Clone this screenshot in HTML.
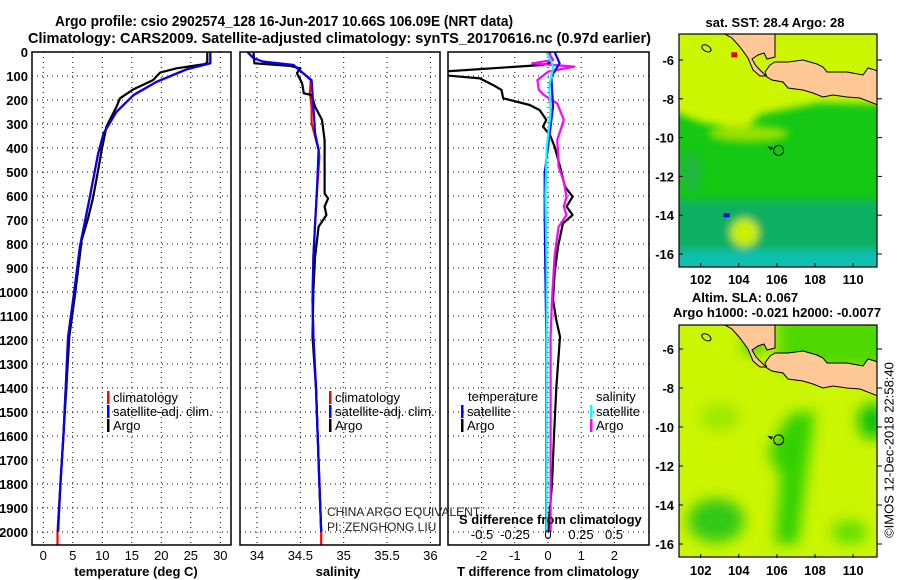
<!DOCTYPE html>
<html><head><meta charset="utf-8"><style>
html,body{margin:0;padding:0;background:#fff}
svg{display:block;font-family:"Liberation Sans",sans-serif}
.b{font-weight:bold}
</style></head><body>
<svg id="fig" width="900" height="580" viewBox="0 0 900 580" xmlns="http://www.w3.org/2000/svg">
<defs>
<clipPath id="c1"><rect x="32" y="52" width="199" height="493"/></clipPath>
<clipPath id="c2"><rect x="240" y="52" width="200" height="493"/></clipPath>
<clipPath id="c3"><rect x="448" y="52" width="201" height="493"/></clipPath>
<clipPath id="cm1"><rect x="679" y="34" width="198" height="233"/></clipPath>
<clipPath id="cm2"><rect x="679" y="325" width="198" height="232"/></clipPath>
<filter id="bl" x="-50%" y="-50%" width="200%" height="200%"><feGaussianBlur stdDeviation="7"/></filter>
<filter id="bl2" x="-50%" y="-50%" width="200%" height="200%"><feGaussianBlur stdDeviation="4"/></filter>
</defs>
<text class="b" x="55" y="26" font-size="15" textLength="458" lengthAdjust="spacingAndGlyphs">Argo profile: csio 2902574_128 16-Jun-2017 10.66S 106.09E (NRT data)</text>
<text class="b" x="28" y="43" font-size="15" textLength="623" lengthAdjust="spacingAndGlyphs">Climatology: CARS2009. Satellite-adjusted climatology: synTS_20170616.nc (0.97d earlier)</text>
<g id="grids"></g>
<g id="lines"></g>
<g id="frames"></g>
<g id="labels"></g>
<g id="maps"></g>
</svg>
<script>
// ---- data (depth in m, values) ----
const tClimDepth=[0,47,72,124,179,249,339,400,422,603,811,1006,1186,1400,1600,1800,2000,2054];
const tClimVal=[28.3,28.3,24.3,19.2,15.3,12.4,10.2,9.7,9.3,7.9,6.2,5.2,4.2,3.8,3.4,2.9,2.4,2.4];
const tSatDepth=[0,47,72,124,179,249,339,422,603,811,1006,1186,1400,1600,1800,2000];
const tSatVal=[28.3,28.3,24.3,19.2,15.3,12.4,10.2,9.3,7.9,6.2,5.2,4.2,3.8,3.4,2.9,2.5];
const tArgoDepth=[0,40,50,68,86,117,155,193,228,311,408,533,610,693,783,1006,1186,1400,1600,1800,2000];
const tArgoVal=[27.8,27.8,27.5,22.6,19.8,18.6,15.3,13.0,12.4,10.7,9.9,9.0,8.4,7.6,6.5,5.4,4.4,3.9,3.4,2.9,2.5];

const sClimDepth=[0,26,40,54,117,172,228,297,408,436,590,714,853,1033,1186,1400,1600,1800,2000,2054];
const sClimVal=[33.89,33.96,34.07,34.42,34.62,34.61,34.63,34.63,34.71,34.72,34.69,34.67,34.65,34.64,34.65,34.68,34.70,34.72,34.74,34.74];
const sSatDepth=[0,26,40,54,117,228,339,408,590,714,853,1033,1186,1400,1600,1800,2000];
const sSatVal=[33.89,33.96,34.07,34.42,34.63,34.65,34.67,34.71,34.69,34.67,34.65,34.64,34.65,34.68,34.70,34.72,34.74];
const sArgoDepth=[0,47,58,68,88,130,172,179,228,283,367,590,610,644,679,728,853,992,1186,1400,1600,1800,2000];
const sArgoVal=[33.96,33.97,34.38,34.50,34.46,34.52,34.54,34.63,34.67,34.75,34.78,34.78,34.82,34.78,34.80,34.71,34.67,34.65,34.64,34.68,34.70,34.72,34.74];

const dtArgoDepth=[0,47,54,82,96,110,138,158,193,221,242,283,311,346,394,478,561,603,644,679,714,811,922,1033,1117,1186,1400,1600,1800,2000];
const dtArgoVal=[0.06,0.06,-0.19,-3.2,-3.2,-2.05,-1.65,-1.4,-1.35,-0.55,-0.25,-0.05,-0.15,0.06,0.2,0.36,0.51,0.74,0.56,0.74,0.45,0.3,0.2,0.15,0.25,0.36,0.25,0.18,0.12,0.0];
const dtSatDepth=[0,47,103,228,339,506,672,900,1186,1500,1800,2000];
const dtSatVal=[0.2,0.35,0.1,0.15,0.05,-0.1,-0.1,-0.08,-0.05,-0.05,-0.05,-0.05];
const dsArgoDepth=[0,33,47,61,82,117,158,179,214,283,367,478,540,603,644,679,728,850,1033,1186,1500,1800,2000];
const dsArgoVal=[0.0,0.04,-0.12,0.2,0.0,-0.08,-0.07,-0.03,0.07,0.12,0.07,0.08,0.12,0.14,0.12,0.14,0.08,0.05,0.03,0.02,0.02,0.02,0.02];
const dsSatDepth=[0,61,138,250,400,600,900,1200,1500,1800,2000];
const dsSatVal=[-0.01,0.04,0.01,0.02,-0.01,-0.02,-0.01,-0.01,-0.01,-0.01,-0.01];

const depthTicks=[0,100,200,300,400,500,600,700,800,900,1000,1100,1200,1300,1400,1500,1600,1700,1800,1900,2000];
const tTicks=[0,5,10,15,20,25,30];
const sTicks=[34,34.5,35,35.5,36];
const dtTicks=[-2,-1,0,1,2];
const dsTicks=[-0.5,-0.25,0,0.25,0.5];
const latTicks=[-6,-8,-10,-12,-14,-16];
const lonTicks=[102,104,106,108,110];

// ---- scales ----
const yD=d=>52+0.24*d;
const xT=v=>43.3+5.9*v;
const xS=v=>257+86.7*(v-34);
const xDT=v=>548+33.2*v;
const xDS=v=>548+132*v;
const NS="http://www.w3.org/2000/svg";
function mk(tag,attrs,parent){const e=document.createElementNS(NS,tag);for(const k in attrs)e.setAttribute(k,attrs[k]);parent.appendChild(e);return e;}
const G=document.getElementById('grids'),L=document.getElementById('lines'),F=document.getElementById('frames'),T=document.getElementById('labels'),M=document.getElementById('maps');

const panels=[{x0:32,x1:231,fx:xT,ticks:tTicks},{x0:240,x1:440,fx:xS,ticks:sTicks},{x0:448,x1:649,fx:xDT,ticks:dtTicks}];
panels.forEach((p,i)=>{
  depthTicks.forEach(d=>{if(d===0)return;
    const g=mk('line',{x1:p.x0,x2:p.x1,y1:yD(d),y2:yD(d),stroke:'#000','stroke-width':1,'stroke-dasharray':'1,4'},G);
    
    
  });
  p.ticks.forEach(v=>{
    const g=mk('line',{x1:p.fx(v),x2:p.fx(v),y1:52,y2:545,stroke:'#000','stroke-width':1,'stroke-dasharray':'1,4'},G);
    
    
    const t=mk('text',{x:p.fx(v),y:560,'font-size':13,'text-anchor':'middle'},T);
    t.textContent=String(v);
    
    
  });
  const r=mk('rect',{x:p.x0,y:52,width:p.x1-p.x0,height:493,fill:'none',stroke:'#000','stroke-width':1.5},F);
  
  
});
depthTicks.forEach(d=>{
  const t=mk('text',{x:28,y:yD(d)+5,'font-size':13,'text-anchor':'end',class:'b'},T);
  t.textContent=String(d);
  
  
});
dsTicks.forEach(v=>{
  const t=mk('text',{x:xDS(v),y:539,'font-size':13,'text-anchor':'middle'},T);
  t.textContent=String(v);
  
  
});
function line(depths,vals,fx,color,clip,name){
  const pts=depths.map((d,i)=>fx(vals[i]).toFixed(1)+','+yD(d).toFixed(1)).join(' ');
  const e=mk('polyline',{points:pts,fill:'none',stroke:color,'stroke-width':2.2,'clip-path':'url(#'+clip+')','stroke-linejoin':'round'},L);
  
  
}
line(tClimDepth,tClimVal,xT,'#f00','c1','temp-climatology-line');
line(tArgoDepth,tArgoVal,xT,'#000','c1','temp-argo-line');
line(tSatDepth,tSatVal,xT,'#00f','c1','temp-satellite-line');
line(sClimDepth,sClimVal,xS,'#f00','c2','sal-climatology-line');
line(sArgoDepth,sArgoVal,xS,'#000','c2','sal-argo-line');
line(sSatDepth,sSatVal,xS,'#00f','c2','sal-satellite-line');
line(dtArgoDepth,dtArgoVal,xDT,'#000','c3','tdiff-argo-line');
line(dsArgoDepth,dsArgoVal,xDS,'#f0f','c3','sdiff-argo-line');
line(dtSatDepth,dtSatVal,xDT,'#00f','c3','tdiff-satellite-line');
line(dsSatDepth,dsSatVal,xDS,'#0ff','c3','sdiff-satellite-line');

// ---- legends & text ----
function leg(x,y,color,label,name){
  const r=mk('rect',{x:x,y:y-10,width:2.5,height:13,fill:color},T);
  
  
  const t=mk('text',{x:x+6,y:y+1,'font-size':13},T);
  t.textContent=label;
  
  
}
leg(107,401,'#f00','climatology','legend-temp-climatology');
leg(107,415,'#00f','satellite-adj. clim.','legend-temp-satellite');
leg(107,429,'#000','Argo','legend-temp-argo');
leg(329,401,'#f00','climatology','legend-sal-climatology');
leg(329,415,'#00f','satellite-adj. clim.','legend-sal-satellite');
leg(329,429,'#000','Argo','legend-sal-argo');
leg(461,415,'#00f','satellite','legend-tdiff-satellite');
leg(461,429,'#000','Argo','legend-tdiff-argo');
leg(590,415,'#0ff','satellite','legend-sdiff-satellite');
leg(590,429,'#f0f','Argo','legend-sdiff-argo');
</script>
<script>
(function(){
const NS="http://www.w3.org/2000/svg",T=document.getElementById('labels');
function tx(x,y,s,str,name,extra){const e=document.createElementNS(NS,'text');e.setAttribute('x',x);e.setAttribute('y',y);e.setAttribute('font-size',s);for(const k in (extra||{}))e.setAttribute(k,extra[k]);e.textContent=str;


T.appendChild(e);}
tx(468,401,13,'temperature','legend-temp-heading');
tx(596,401,13,'salinity','legend-sal-heading');
tx(327,516,12,'CHINA ARGO EQUIVALENT','pi-institution',{fill:'#222'});
tx(327,531,12,'PI: ZENGHONG LIU','pi-name',{fill:'#222'});
tx(459,524,13,'S difference from climatology','s-diff-axis-title',{'font-weight':'bold'});
tx(136,576,13,'temperature (deg C)','x-axis-title-temperature',{'font-weight':'bold','text-anchor':'middle'});
tx(338,576,13,'salinity','x-axis-title-salinity',{'font-weight':'bold','text-anchor':'middle'});
tx(548,576,13,'T difference from climatology','x-axis-title-tdiff',{'font-weight':'bold','text-anchor':'middle'});
})();
</script>
<script>
// ---- maps ----
(function(){
const NS="http://www.w3.org/2000/svg",M=document.getElementById('maps');
function mk(tag,a,p){const e=document.createElementNS(NS,tag);for(const k in a)e.setAttribute(k,a[k]);p.appendChild(e);return e;}
const lonX=lon=>700.7+19.05*(lon-102);
const maps=[{top:34,lat6:60,k:19.4,dy:0,clip:'cm1',name:'sst-map'},{top:325,lat6:349,k:19.5,dy:291,clip:'cm2',name:'sla-map'}];
// land outlines in map-1 pixel frame (x,y)
const sumatraPx=[[723,33],[775,33],[775,57],[767,59],[764,53],[758,55],[752,59],[756,66],[762,72],[766,76],[760,76],[753,70],[748,58],[740,47],[732,38]];
const javaPx=[[775,62],[788,62],[803,60],[817,64],[823,67],[827,72],[847,72],[863,75],[868,68],[875,70],[878,72],[878,105],[860,98],[847,97],[833,95],[823,97],[813,93],[803,90],[788,88],[783,82],[772,80],[767,77],[765,72],[770,65]];
maps.forEach((m,mi)=>{
  const latY=lat=>m.lat6+m.k*(-6-lat);
  const g=mk('g',{'clip-path':'url(#'+m.clip+')'},M);
  
  
  const H=233;
  if(mi===0){
    mk('rect',{x:679,y:m.top,width:198,height:H,fill:'#14c814'},g);
    const b=mk('g',{filter:'url(#bl2)'},g);
    mk('polygon',{points:`670,${m.top-10} 890,${m.top-10} 890,${latY(-8.3)} 820,${latY(-8.2)} 760,${latY(-8.8)} 745,${latY(-9.6)} 700,${latY(-9.2)} 670,${latY(-8.6)}`,fill:'#ccf500'},b);
    mk('ellipse',{cx:lonX(104.5),cy:latY(-9.8),rx:40,ry:8,fill:'#99e000'},b);
    mk('rect',{x:670,y:latY(-13.2),width:220,height:60,fill:'#10b060'},b);
    mk('rect',{x:670,y:latY(-15.8),width:220,height:30,fill:'#10c0b0'},b);
    mk('ellipse',{cx:lonX(104.3),cy:latY(-14.9),rx:14,ry:14,fill:'#c8f000'},b);
    mk('ellipse',{cx:lonX(101.5),cy:latY(-11.8),rx:10,ry:20,fill:'#20b840'},b);
    mk('rect',{x:lonX(103.2),y:latY(-13.9),width:6,height:4,fill:'#0000e0'},g);
    mk('rect',{x:lonX(103.6),y:latY(-5.6),width:6,height:5,fill:'#f00000'},g);
  } else {
    mk('rect',{x:679,y:m.top,width:198,height:H,fill:'#ccf500'},g);
    const b=mk('g',{filter:'url(#bl)'},g);
    mk('polygon',{points:`${lonX(106.7)},${latY(-9.3)} ${lonX(108)},${latY(-9.2)} ${lonX(107.6)},${latY(-12)} ${lonX(107.1)},${latY(-16)} ${lonX(105.9)},${latY(-16)} ${lonX(106.2)},${latY(-12.5)} ${lonX(105.5)},${latY(-11.3)}`,fill:'#30d000'},b);
    mk('ellipse',{cx:lonX(102.8),cy:latY(-14.8),rx:28,ry:22,fill:'#30c818'},b);
    mk('ellipse',{cx:lonX(111),cy:latY(-9.7),rx:14,ry:18,fill:'#10c010'},b);
    mk('ellipse',{cx:lonX(109.8),cy:latY(-15.4),rx:18,ry:12,fill:'#60e000'},b);
    mk('ellipse',{cx:lonX(103),cy:latY(-9.5),rx:20,ry:14,fill:'#9ce800'},b);
    mk('rect',{x:lonX(106),y:m.top-10,width:120,height:latY(-7)-m.top+10,fill:'#50d800'},b);
    mk('ellipse',{cx:lonX(104.8),cy:latY(-5.8),rx:12,ry:10,fill:'#40d000'},b);
  }
  [sumatraPx,javaPx].forEach((poly,j)=>{
    const p=mk('polygon',{points:poly.map(q=>q[0]+','+(q[1]+m.dy)).join(' '),fill:'#ffc896',stroke:'#000','stroke-width':1},g);
    
    
  });
  const c=mk('circle',{cx:lonX(106.09),cy:latY(-10.66),r:5,fill:'none',stroke:'#000','stroke-width':1},g);
  
  
  mk('polygon',{points:`${lonX(105.5)},${latY(-10.45)} ${lonX(105.8)},${latY(-10.5)} ${lonX(105.7)},${latY(-10.65)}`,fill:'#000'},g);
  mk('ellipse',{cx:lonX(102.3),cy:latY(-5.4),rx:5,ry:3,fill:'none',stroke:'#000','stroke-width':1,transform:`rotate(30 ${lonX(102.3)} ${latY(-5.4)})`},g);
  const fr=mk('rect',{x:679,y:m.top,width:198,height:H-(mi?1:0),fill:'none',stroke:'#000','stroke-width':1.2},M);
  
  
  [-6,-8,-10,-12,-14,-16].forEach(lat=>{
    mk('line',{x1:679,x2:683,y1:latY(lat),y2:latY(lat),stroke:'#000'},M);
    mk('line',{x1:877,x2:882,y1:latY(lat),y2:latY(lat),stroke:'#000'},M);
    const t=mk('text',{x:674,y:latY(lat)+5,'font-size':13,'font-weight':'bold','text-anchor':'end'},M);
    t.textContent=String(lat);
    
    
  });
  [102,104,106,108,110].forEach(lon=>{
    mk('line',{x1:lonX(lon),x2:lonX(lon),y1:m.top+H-4,y2:m.top+H,stroke:'#000'},M);
    const t=mk('text',{x:lonX(lon),y:m.top+H+17,'font-size':13,'font-weight':'bold','text-anchor':'middle'},M);
    t.textContent=String(lon);
    
    
  });
});
function tx(x,y,str,name,extra){const e=document.createElementNS(NS,'text');e.setAttribute('x',x);e.setAttribute('y',y);e.setAttribute('font-size',13);e.setAttribute('font-weight','bold');e.setAttribute('text-anchor','middle');for(const k in (extra||{}))e.setAttribute(k,extra[k]);e.textContent=str;


M.appendChild(e);}
tx(775,27,'sat. SST: 28.4 Argo: 28','sst-map-title');
tx(745,302,'Altim. SLA: 0.067','sla-map-title');
tx(777,317,'Argo h1000: -0.021 h2000: -0.0077','sla-map-subtitle');
tx(890,450,'©IMOS 12-Dec-2018 22:58:40','copyright-timestamp',{'font-weight':'normal',transform:'rotate(-90 890 450)','dominant-baseline':'middle'});
})();
</script>
</body></html>
